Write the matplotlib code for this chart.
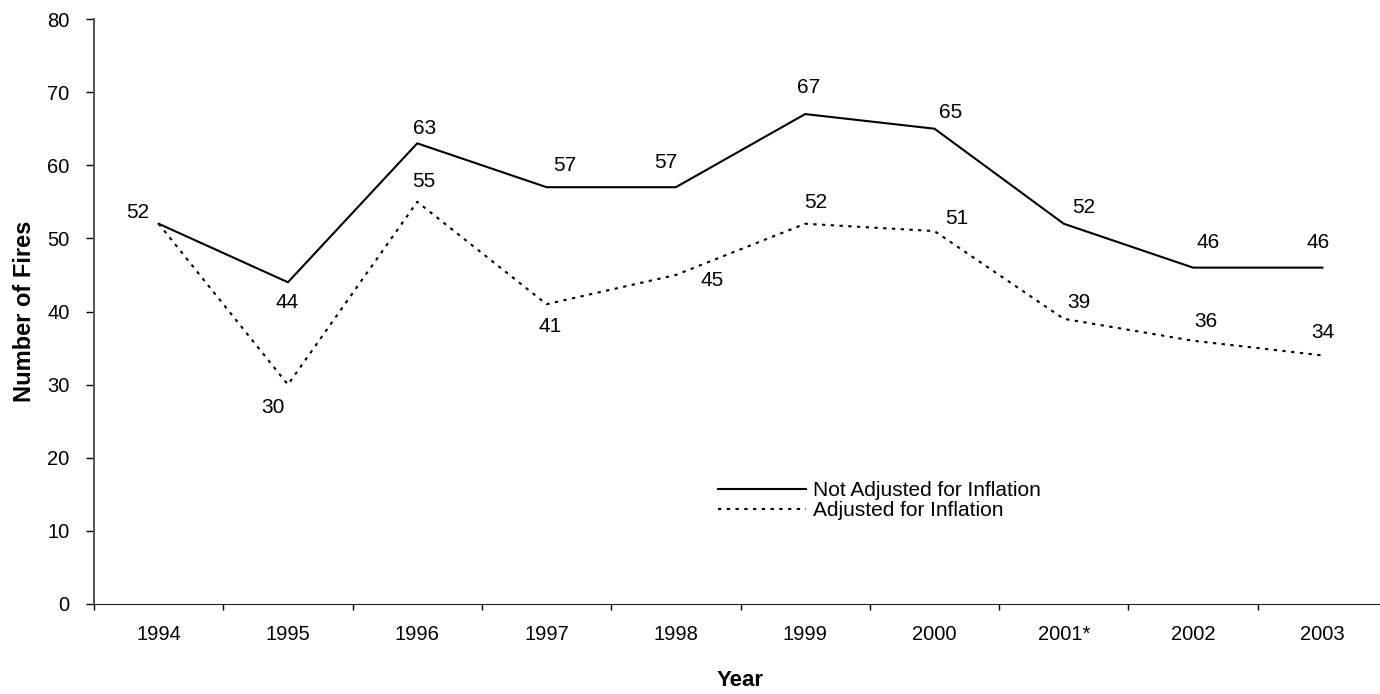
import numpy as np
import matplotlib
matplotlib.use('Agg')
import matplotlib.pyplot as plt

plt.rcParams['font.family'] = ['Liberation Sans', 'DejaVu Sans']

years = ['1994', '1995', '1996', '1997', '1998', '1999', '2000', '2001*', '2002', '2003']
not_adjusted = [52, 44, 63, 57, 57, 67, 65, 52, 46, 46]
adjusted = [52, 30, 55, 41, 45, 52, 51, 39, 36, 34]

# label offsets in pixels (dx, dy) from the point
off_not = [(-21, 11), (-1, -20), (7, 15), (18, 22), (-10, 25), (3, 27), (16, 16), (20, 16), (15, 25), (-4, 25)]
off_adj = [None, (-15, -23), (7, 20), (4, -22), (36, -6), (11, 21), (22, 13), (15, 16), (13, 19), (0, 23)]

fig = plt.figure(figsize=(13.8, 6.94), dpi=100)
ax = fig.add_axes([0.0681, 0.1297, 0.937, 0.8429])

x = np.arange(len(years))
ax.plot(x, not_adjusted, color='black', lw=1.5, label='Not Adjusted for Inflation')
ax.plot(x, adjusted, color='black', lw=1.5, linestyle=(0, (1.6, 2.6)), label='Adjusted for Inflation')

for i, v in enumerate(not_adjusted):
    ax.annotate(str(v), (x[i], v), xytext=off_not[i], textcoords='offset pixels',
                ha='center', va='center', fontsize=15)
for i, v in enumerate(adjusted):
    if off_adj[i] is None:
        continue
    ax.annotate(str(v), (x[i], v), xytext=off_adj[i], textcoords='offset pixels',
                ha='center', va='center', fontsize=15)

ax.set_xlim(-0.5, 9.5)
ax.set_ylim(0, 80)
ax.set_yticks(np.arange(0, 81, 10))
ax.set_xticks(x)
ax.set_xticklabels(years)
ax.set_xticks(np.arange(-0.5, 9.6, 1), minor=True)
ax.tick_params(axis='x', which='major', length=0, pad=15, labelsize=14.5)
ax.tick_params(axis='x', which='minor', length=4.5, direction='out', width=1)
ax.tick_params(axis='y', length=5.5, width=1, pad=12, labelsize=14.5)

for s in ['top', 'right']:
    ax.spines[s].set_visible(False)
ax.spines['left'].set_color('#555555')
ax.spines['left'].set_linewidth(1.4)
ax.spines['bottom'].set_color('#222222')

ax.set_ylabel('Number of Fires', fontsize=17, fontweight='bold', labelpad=8)
ax.set_xlabel('Year', fontsize=16, fontweight='bold', labelpad=19)

ax.legend(loc='upper left', bbox_to_anchor=(0.4826, 0.210), frameon=False, fontsize=15,
          handlelength=4.2, handletextpad=0.35, labelspacing=0.05, borderpad=0,
          borderaxespad=0)

fig.savefig('out.png', dpi=100)
